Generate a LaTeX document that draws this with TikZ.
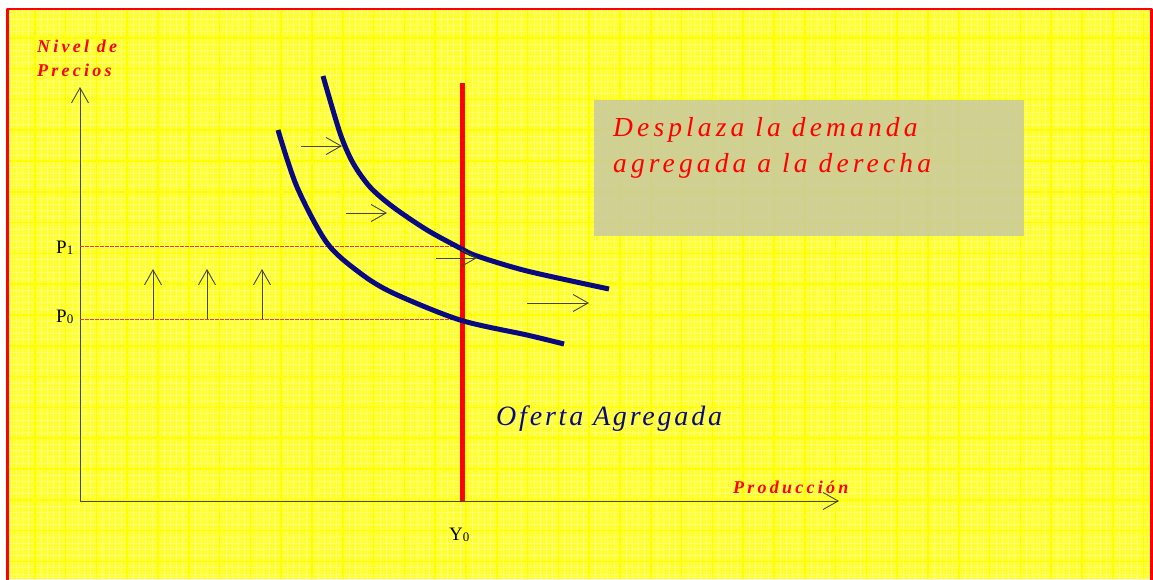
\documentclass[tikz,border=0pt]{standalone}
\usepackage{fontspec}
\setmainfont{Liberation Serif}
\newfontfamily\rotulo[LetterSpace=18]{Liberation Serif}
\newfontfamily\leyenda[LetterSpace=15]{Liberation Serif}
\newfontfamily\oferta[LetterSpace=10]{Liberation Serif}
\usetikzlibrary{arrows.meta}
\definecolor{fondo}{RGB}{255,255,50}
\definecolor{rejilla}{RGB}{255,255,0}
\definecolor{rejillafina}{RGB}{255,255,120}
\definecolor{azul}{RGB}{10,10,128}
\definecolor{eje}{RGB}{70,70,40}
\definecolor{caja}{RGB}{200,200,160}
\definecolor{rojoguia}{RGB}{240,60,20}
\tikzset{
  flecha/.style={eje, line width=0.9pt, -{Straight Barb[length=15pt,width=17pt]}},
  demanda/.style={azul, line width=5pt, line cap=butt},
  guia/.style={rojoguia, line width=1pt, dash pattern=on 4pt off 1pt},
  rotulorojo/.style={red, inner sep=0pt, anchor=base west, font=\rotulo\fontsize{18}{24}\selectfont\bfseries\itshape},
  etiqueta/.style={inner sep=0pt, anchor=base west, font=\fontsize{19}{19}\selectfont},
}
\newcommand{\subind}[1]{{\fontsize{13}{13}\selectfont\raisebox{-1pt}{#1}}}
\begin{document}
\begin{tikzpicture}[x=1pt, y=-1pt, line join=round]
\useasboundingbox (0,0) rectangle (1153,579);
\def \xmin{7};
\def \xmax{1153};
\def \ymin{9};
\def \ymax{579};
% fondo y rejilla
\fill[white] (0,0) rectangle (1153,579);
\begin{scope}
\clip (\xmin,\ymin) rectangle (\xmax,\ymax);
\fill[fondo] (\xmin,\ymin) rectangle (\xmax,\ymax);
\foreach \x in {4,10.16,...,1160} \draw[rejillafina, line width=0.4pt] (\x,\ymin) -- (\x,\ymax);
\foreach \y in {7,13.16,...,585} \draw[rejillafina, line width=0.4pt] (\xmin,\y) -- (\xmax,\y);
\foreach \x in {4,34.8,...,1160} \draw[rejilla, line width=1.6pt] (\x,\ymin) -- (\x,\ymax);
\foreach \y in {7,37.8,...,585} \draw[rejilla, line width=1.6pt] (\xmin,\y) -- (\xmax,\y);
\end{scope}
\draw[red, line width=2.5pt] (7.5,9) rectangle (1151.5,590);

% cuadro del texto
\node[fill=caja, fill opacity=0.85, inner sep=0pt, minimum width=430pt, minimum height=136pt, anchor=north west] (cuadro) at (594,100) {};
\node[red, inner sep=0pt, anchor=base west, align=left, font=\leyenda\fontsize{27.5}{36}\selectfont\itshape] (texto) at (613,172) {Desplaza la demanda\\agregada a la derecha};

% ejes
\coordinate (origen) at (80,501);
\coordinate (ytope) at (80,87);
\coordinate (xtope) at (839,501);
\draw[flecha] (origen) -- (ytope);
\draw[flecha] (origen) -- (xtope);
\node[rotulorojo, align=left] (nivel) at (37,76) {Nivel de\\Precios};
\node[rotulorojo] (produccion) at (733,493) {Producción};

% precios
\coordinate (p0eje) at (80,319);
\coordinate (p1eje) at (80,246);
\coordinate (p0y) at (462,319);
\coordinate (p1y) at (462,246);
\draw[guia] (p1eje) -- (p1y);
\draw[guia] (p0eje) -- (p0y);
\node[etiqueta] (p1) at (56,253) {P\subind{1}};
\node[etiqueta] (p0) at (56,322) {P\subind{0}};
\foreach \x [count=\i] in {153,207,262} {
  \coordinate (sube\i) at (\x,319);
  \coordinate (tope\i) at (\x,269);
  \draw[flecha] (sube\i) -- (tope\i);
}

% oferta agregada
\coordinate (oabajo) at (462,501);
\coordinate (oarriba) at (462,83);
\draw[red, line width=5pt] (oabajo) -- (oarriba);
\node[etiqueta] (y0) at (449,540) {Y\subind{0}};
\node[azul, inner sep=0pt, anchor=base west, font=\oferta\fontsize{28}{28}\selectfont\itshape] (ofertaag) at (496,425) {Oferta Agregada};

% curvas de demanda
\draw[demanda] plot[smooth, tension=0.5] coordinates {(278,130) (297,187) (327,243) (360,273) (393,293) (460,320) (527,335) (564,344)};
\draw[demanda] plot[smooth, tension=0.5] coordinates {(323,76) (340,133) (353,163) (370,187) (393,207) (427,230) (460,248) (477,256) (527,271) (609,289)};

% desplazamientos
\foreach \xa/\xb/\y [count=\i] in {301/342/146, 346/387/213, 436/477/258, 527/589/303} {
  \coordinate (de\i) at (\xa,\y);
  \coordinate (a\i) at (\xb,\y);
  \draw[flecha] (de\i) -- (a\i);
}
\end{tikzpicture}
\end{document}
